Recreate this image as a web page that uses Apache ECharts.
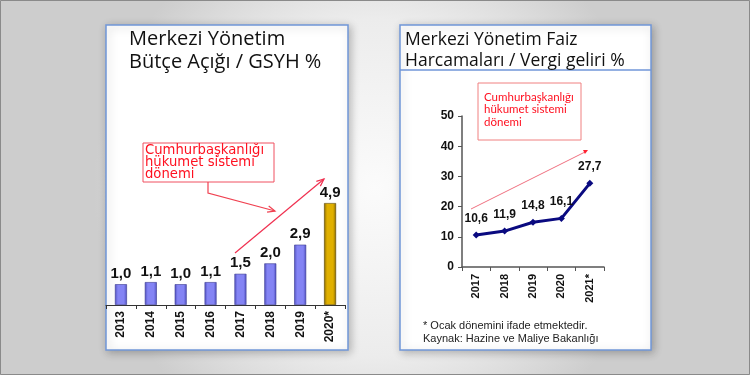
<!DOCTYPE html>
<html><head><meta charset="utf-8">
<script src="https://cdn.jsdelivr.net/npm/echarts@6/dist/echarts.min.js"></script>
<style>html,body{margin:0;padding:0;background:#fff}#c{width:750px;height:375px}</style>
</head><body><div id="c"></div>
<script>
// ---- data ----
const barYears = ['2013','2014','2015','2016','2017','2018','2019','2020*'];
const barValues = [1.0, 1.1, 1.0, 1.1, 1.5, 2.0, 2.9, 4.9];
const lineYears = ['2017','2018','2019','2020','2021*'];
const lineValues = [10.6, 11.9, 14.8, 16.1, 27.7];
const leftTitle = ['Merkezi Yönetim', 'Bütçe Açığı / GSYH %'];
const rightTitle = ['Merkezi Yönetim Faiz', 'Harcamaları / Vergi geliri %'];
const noteText = 'Cumhurbaşkanlığı\nhükumet sistemi\ndönemi';
const footnotes = ['* Ocak dönemini ifade etmektedir.', 'Kaynak: Hazine ve Maliye Bakanlığı'];

const chart = echarts.init(document.getElementById('c'));
const fmt = v => String(v.toFixed(1)).replace('.', ',');

function grad(edge, mid) {
  return new echarts.graphic.LinearGradient(0,0,1,0,[
    {offset:0,color:edge},{offset:0.25,color:mid},{offset:0.75,color:mid},{offset:1,color:edge}]);
}
function head(x1,y1,x2,y2,len,ang){
  const a=Math.atan2(y2-y1,x2-x1);
  return [[x2-len*Math.cos(a-ang),y2-len*Math.sin(a-ang)],[x2,y2],[x2-len*Math.cos(a+ang),y2-len*Math.sin(a+ang)]];
}

const graphics = [
  {type:'rect',z:-10,shape:{x:0.5,y:0.5,width:749,height:374},style:{fill:'none',stroke:'#8a8a8a',lineWidth:1}},
  {type:'rect',z:-5,shape:{x:106,y:25,width:242,height:325},style:{fill:'#fff',stroke:'#7096d8',lineWidth:1.5,shadowBlur:8,shadowColor:'rgba(0,0,0,0.25)',shadowOffsetX:2,shadowOffsetY:2}},
  {type:'rect',z:-5,shape:{x:400,y:25,width:251,height:325},style:{fill:'#fff',stroke:'#7096d8',lineWidth:1.5,shadowBlur:8,shadowColor:'rgba(0,0,0,0.25)',shadowOffsetX:2,shadowOffsetY:2}},
  {type:'line',z:-4,shape:{x1:400,y1:70,x2:651,y2:70},style:{stroke:'#7096d8',lineWidth:1.5}},
  {type:'text',x:129,y:28,style:{text:leftTitle[0]+'\n'+leftTitle[1],fontSize:20,fontFamily:'Open Sans',fill:'#111',lineHeight:23}},
  {type:'text',x:405,y:30,style:{text:rightTitle[0]+'\n'+rightTitle[1],fontSize:17.5,fontFamily:'Open Sans',fill:'#111',lineHeight:21}},
  // left annotation
  {type:'rect',shape:{x:143,y:143,width:131,height:39},style:{fill:'#fff',stroke:'#f05060',lineWidth:1}},
  {type:'text',x:145,y:144,style:{text:noteText,fontSize:13.2,fontFamily:'DejaVu Sans',fill:'#ff1020',lineHeight:12.3}},
  {type:'polyline',shape:{points:[[208,182],[208,193],[275,211]]},style:{stroke:'#f04050',lineWidth:1.2,fill:'none'}},
  {type:'polyline',shape:{points:head(208,193,275,211,8,0.4)},style:{stroke:'#f04050',lineWidth:1.2,fill:'none'}},
  {type:'line',shape:{x1:235,y1:253,x2:324,y2:179},style:{stroke:'#f03050',lineWidth:1.2}},
  {type:'polyline',shape:{points:head(235,253,324,179,8,0.4)},style:{stroke:'#f03050',lineWidth:1.2,fill:'none'}},
  // right annotation
  {type:'rect',shape:{x:478,y:83,width:103,height:57},style:{fill:'#fff',stroke:'#f08080',lineWidth:1}},
  {type:'text',x:484,y:91,style:{text:noteText,fontSize:11.5,fontFamily:'Lato',fill:'#ff1020',lineHeight:12.5}},
  {type:'line',shape:{x1:471,y1:209,x2:585,y2:152},style:{stroke:'#f07080',lineWidth:1}},
  {type:'polygon',shape:{points:head(471,209,588,150,5,0.45)},style:{fill:'#ff2030'}},
  {type:'text',x:423,y:319,style:{text:footnotes[0]+'\n'+footnotes[1],fontSize:11,fontFamily:'Liberation Sans',fill:'#222',lineHeight:13.5}}
];

chart.setOption({
  animation:false,
  backgroundColor:{type:'radial',x:0.5,y:0.5,r:0.75,colorStops:[{offset:0,color:'#fbfbfb'},{offset:0.6,color:'#ececec'},{offset:1,color:'#cdcdcd'}]},
  graphic:graphics,
  grid:[
    {left:106,width:239,top:97,height:208},
    {left:462,width:142,top:116,height:151}
  ],
  xAxis:[
    {gridIndex:0,type:'category',data:barYears,
     axisLine:{lineStyle:{color:'#333',width:1}},
     axisTick:{show:true,length:4,lineStyle:{color:'#333'}},
     axisLabel:{rotate:90,fontWeight:'bold',fontSize:12,color:'#111',fontFamily:'Liberation Sans',margin:6}},
    {gridIndex:1,type:'category',data:lineYears,
     axisLine:{lineStyle:{color:'#555',width:1.5}},
     axisTick:{show:true,length:4,lineStyle:{color:'#555'}},
     axisLabel:{rotate:90,fontWeight:'bold',fontSize:11,color:'#111',fontFamily:'Liberation Sans',margin:7}}
  ],
  yAxis:[
    {gridIndex:0,type:'value',min:0,max:10,show:false,splitLine:{show:false}},
    {gridIndex:1,type:'value',min:0,max:50,interval:10,
     axisLine:{show:true,lineStyle:{color:'#555',width:1.5}},
     axisTick:{show:true,length:4,lineStyle:{color:'#555'}},
     splitLine:{show:false},
     axisLabel:{fontWeight:'bold',fontSize:12,color:'#111',fontFamily:'Liberation Sans',margin:8}}
  ],
  series:[
    {type:'bar',xAxisIndex:0,yAxisIndex:0,barWidth:12,
     data:barValues.map((v,i)=>({value:v,itemStyle:{color:i===barValues.length-1?grad('#8a6a00','#e0b000'):grad('#5050c0','#8484f4'),borderColor:i===barValues.length-1?'#5a4500':'#3a3a90',borderWidth:0.6}})),
     label:{show:true,position:'top',distance:3,formatter:p=>fmt(p.value),fontWeight:'bold',fontSize:15,color:'#111',fontFamily:'Liberation Sans'}},
    {type:'line',xAxisIndex:1,yAxisIndex:1,data:lineValues,
     lineStyle:{color:'#0a0a80',width:3},itemStyle:{color:'#0a0a80'},
     symbol:'diamond',symbolSize:7,
     label:{show:true,position:'top',distance:7,formatter:p=>fmt(p.value),fontWeight:'bold',fontSize:12,color:'#111',fontFamily:'Liberation Sans'}}
  ]
});
</script></body></html>
